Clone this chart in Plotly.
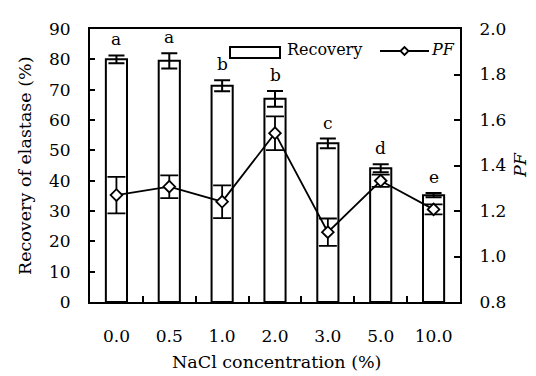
import plotly.graph_objects as go

categories = ["0.0", "0.5", "1.0", "2.0", "3.0", "5.0", "10.0"]
recovery = [80.0, 79.5, 71.3, 67.0, 52.3, 44.1, 35.2]
recovery_err = [1.3, 2.5, 1.8, 2.6, 1.6, 1.3, 0.7]
pf = [1.27, 1.307, 1.241, 1.542, 1.107, 1.333, 1.207]
pf_err = [0.08, 0.05, 0.072, 0.074, 0.06, 0.027, 0.022]
letters = ["a", "a", "b", "b", "c", "d", "e"]

FONT = "DejaVu Serif"
TICK = 17
TITLE = 17.5
LEG = 16

fig = go.Figure()
fig.add_trace(go.Bar(
    x=categories, y=recovery, width=0.4,
    marker=dict(color="white", line=dict(color="black", width=2)),
    error_y=dict(type="data", array=recovery_err, color="black", thickness=2, width=8),
    name="Recovery", showlegend=False,
))
fig.add_trace(go.Scatter(
    x=categories, y=pf, yaxis="y2", mode="lines+markers",
    line=dict(color="black", width=1.8),
    marker=dict(symbol="diamond", size=9, color="white", line=dict(color="black", width=1.8)),
    error_y=dict(type="data", array=pf_err, color="black", thickness=1.8, width=9),
    name="PF", showlegend=False,
))

annotations = []
for i, (v, e, t) in enumerate(zip(recovery, recovery_err, letters)):
    annotations.append(dict(x=i, y=v + e, xref="x", yref="y", text=t, showarrow=False,
                            yanchor="bottom", yshift=4, font=dict(family=FONT, size=TICK, color="black")))

# Legend drawn manually (positions relative to the plot area)
W, H = 370.0, 273.0
def px(x):
    return (x - 90) / W
def py(y):
    return (302 - y) / H

shapes = [
    dict(type="rect", xref="paper", yref="paper", x0=px(230), x1=px(280), y0=py(58), y1=py(47),
         line=dict(color="black", width=2), fillcolor="white"),
    dict(type="line", xref="paper", yref="paper", x0=px(380), x1=px(429), y0=py(51), y1=py(51),
         line=dict(color="black", width=1.8)),
    dict(type="path", xref="paper", yref="paper",
         path=f"M {px(400.5)} {py(51)} L {px(404.5)} {py(47)} L {px(408.5)} {py(51)} L {px(404.5)} {py(55)} Z",
         line=dict(color="black", width=1.8), fillcolor="white"),
]
annotations.append(dict(x=px(285), y=py(50), xref="paper", yref="paper", text="Recovery",
                        showarrow=False, xanchor="left", yanchor="middle",
                        font=dict(family=FONT, size=LEG, color="black")))
annotations.append(dict(x=px(429), y=py(50), xref="paper", yref="paper", text="<i>PF</i>",
                        showarrow=False, xanchor="left", yanchor="middle",
                        font=dict(family=FONT, size=LEG, color="black")))
annotations.append(dict(x=px(520), y=py(165), xref="paper", yref="paper", text="<i>PF</i>",
                        showarrow=False, xanchor="center", yanchor="middle", textangle=-90,
                        font=dict(family=FONT, size=TITLE, color="black")))
annotations.append(dict(x=px(276), y=py(362), xref="paper", yref="paper", text="NaCl concentration (%)",
                        showarrow=False, xanchor="center", yanchor="middle",
                        font=dict(family=FONT, size=TITLE, color="black")))
annotations.append(dict(x=px(25), y=py(166), xref="paper", yref="paper", text="Recovery of elastase (%)",
                        showarrow=False, xanchor="center", yanchor="middle", textangle=-90,
                        font=dict(family=FONT, size=TITLE, color="black")))

fig.update_layout(
    width=536, height=376,
    margin=dict(l=82, r=84, t=21, b=82, autoexpand=False),
    paper_bgcolor="white", plot_bgcolor="white",
    font=dict(family=FONT, size=TICK, color="black"),
    showlegend=False,
    shapes=shapes,
    annotations=annotations,
    xaxis=dict(
        type="category", categoryorder="array", categoryarray=categories,
        range=[-0.5, 6.5], tickangle=0,
        showline=True, linecolor="black", linewidth=2, mirror=True,
        ticks="inside", ticklen=6, tickwidth=1.5, tickcolor="black", tickson="boundaries",
        showgrid=False, zeroline=False, ticklabelstandoff=18,
        tickfont=dict(family=FONT, size=TICK),
    ),
    yaxis=dict(
        range=[0, 90], dtick=10, showline=True, linecolor="black", linewidth=2,
        ticks="inside", ticklen=5, tickwidth=1.5, tickcolor="black",
        showgrid=False, zeroline=False, ticklabelstandoff=14,
        tickfont=dict(family=FONT, size=TICK),
    ),
    yaxis2=dict(
        range=[0.8, 2.0], dtick=0.2, tickformat=".1f", overlaying="y", side="right",
        showline=True, linecolor="black", linewidth=2,
        ticks="inside", ticklen=6, tickwidth=1.5, tickcolor="black",
        showgrid=False, zeroline=False, ticklabelstandoff=14,
        tickfont=dict(family=FONT, size=TICK),
    ),
)

fig.write_html("out.html")
